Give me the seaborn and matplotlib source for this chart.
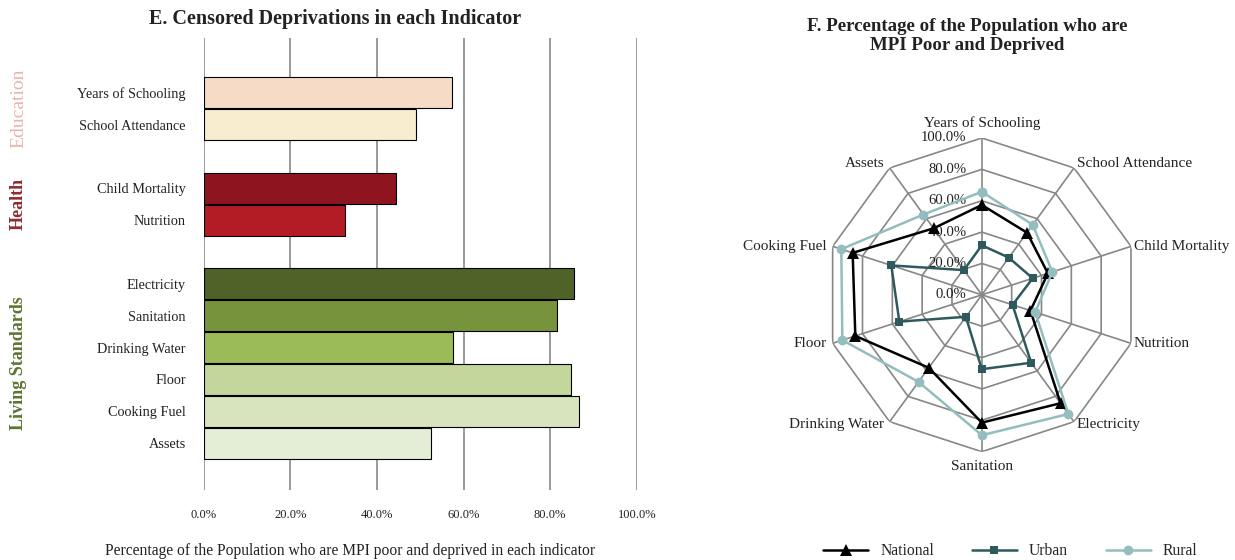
import numpy as np
import pandas as pd
import matplotlib
matplotlib.use('Agg')
import matplotlib.pyplot as plt
import matplotlib.transforms as mtransforms
import seaborn as sns

sns.set_style('white')
plt.rcParams['font.family'] = ['Liberation Serif', 'DejaVu Serif']

# 데이터
indicators = ['Years of Schooling', 'School Attendance', 'Child Mortality', 'Nutrition',
              'Electricity', 'Sanitation', 'Drinking Water', 'Floor', 'Cooking Fuel', 'Assets']
national = [57.3, 49.0, 44.3, 32.6, 85.4, 81.5, 57.5, 84.8, 86.6, 52.4]
urban = [31.6, 29.3, 34.1, 20.6, 53.5, 47.4, 17.3, 55.3, 60.7, 19.5]
rural = [65.7, 55.2, 47.3, 35.8, 93.9, 89.5, 68.6, 93.5, 94.2, 63.3]

bar_colors = ['#F6DCC6', '#F8EDCE', '#8E1520', '#B31C25', '#4F6228',
              '#77933C', '#9BBB59', '#C3D69B', '#D7E4BD', '#E4EDD5']
groups = ['Education', 'Health', 'Living Standards']
group_members = [indicators[0:2], indicators[2:4], indicators[4:10]]
group_colors = ['#E8B4AC', '#8E2A32', '#5E7431']
group_weights = ['normal', 'bold', 'bold']
group_sizes = [14, 13, 13]

series_names = ['National', 'Urban', 'Rural']
series_colors = ['#000000', '#2E5A5E', '#93BDBF']
series_markers = ['^', 's', 'o']
series_sizes = [8, 6, 7]

ticks = [0, 20, 40, 60, 80, 100]
grid_col = '#878787'
text_col = '#222222'

fig = plt.figure(figsize=(12.35, 5.6), dpi=100)

# E. 막대 그래프
ax = fig.add_axes([0.165, 0.125, 0.3506, 0.807])
bdf = pd.DataFrame({'indicator': indicators, 'value': national})
spacers = [' ', '  ', '   ', '    ']
order = [spacers[0]]
for i, members in enumerate(group_members):
    order += members
    order.append(spacers[i + 1])

sns.barplot(data=bdf, x='value', y='indicator', order=order, hue='indicator',
            hue_order=indicators, palette=dict(zip(indicators, bar_colors)),
            legend=False, width=0.97, edgecolor='black', linewidth=0.8,
            saturation=1, ax=ax)
ax.set_xlim(0, 100)
ax.set_ylim(len(order) - 0.53, -0.72)
ax.set_xticks(ticks)
ax.set_xticklabels([f'{t:.1f}%' for t in ticks], fontsize=9, color=text_col)
ax.tick_params(axis='y', labelsize=10.3, labelcolor=text_col, pad=13)
ax.tick_params(axis='x', pad=14)
ax.tick_params(length=0)
ax.xaxis.grid(True, color=grid_col, linewidth=1.2)
ax.set_axisbelow(True)
for s in ax.spines.values():
    s.set_visible(False)
ax.set_ylabel('')
ax.set_xlabel('')

trans = mtransforms.blended_transform_factory(ax.transAxes, ax.transData)
for g, members, col, w, fs in zip(groups, group_members, group_colors, group_weights, group_sizes):
    pos = [order.index(m) for m in members]
    ax.text(-0.428, np.mean(pos), g, rotation=90, ha='center', va='center',
            color=col, fontsize=fs, fontweight=w, transform=trans)

fig.text(0.2834, 0.016, 'Percentage of the Population who are MPI poor and deprived in each indicator',
         ha='center', va='center', fontsize=11.2, color=text_col)
fig.text(0.271, 0.966, 'E. Censored Deprivations in each Indicator',
         ha='center', va='center', fontsize=14.5, fontweight='bold', color=text_col)

# F. 레이더 차트
rax = fig.add_axes([0.668, 0.193, 0.254, 0.561], projection='polar')
n = len(indicators)
theta = np.linspace(0, 2 * np.pi, n, endpoint=False)
theta_c = np.append(theta, 2 * np.pi)
rax.set_theta_zero_location('N')
rax.set_theta_direction(-1)
rax.grid(False)
rax.spines['polar'].set_visible(False)
rax.set_xticks([])
rax.set_yticks([])
rax.set_ylim(0, 1)

for t in ticks[1:]:
    rax.plot(theta_c, [t / 100] * (n + 1), color=grid_col, lw=1.2, zorder=1)
for th in theta:
    rax.plot([th, th], [0, 1], color=grid_col, lw=1.2, zorder=1)

for t in ticks:
    rax.annotate(f'{t:.1f}%', xy=(0, t / 100), xytext=(-11, 0), textcoords='offset points',
                 ha='right', va='center', fontsize=10.6, color=text_col, zorder=2)

aligns = ['center', 'left', 'left', 'left', 'left', 'center', 'right', 'right', 'right', 'right']
for th, lab, ha in zip(theta, indicators, aligns):
    dx = 0 if ha == 'center' else (2 if ha == 'left' else -4)
    dy = 0
    va = 'center'
    if lab == 'Years of Schooling':
        dy, va = 6, 'bottom'
    elif lab == 'Sanitation':
        dy, va = -6, 'top'
    elif lab in ('School Attendance', 'Assets'):
        dy = 3
    elif lab in ('Electricity', 'Drinking Water'):
        dy = -2
    rax.annotate(lab, xy=(th, 1.0), xytext=(dx, dy), textcoords='offset points',
                 ha=ha, va=va, fontsize=11, color=text_col, annotation_clip=False)

for name, vals, col, mk, ms in zip(series_names, [national, urban, rural],
                                   series_colors, series_markers, series_sizes):
    sdf = pd.DataFrame({'theta': theta_c, 'value': np.append(vals, vals[0]) / 100})
    sns.lineplot(data=sdf, x='theta', y='value', sort=False, color=col, marker=mk,
                 markersize=ms, markeredgecolor=col, markeredgewidth=0,
                 linewidth=1.8, label=name, legend=False, ax=rax, zorder=3)
rax.set_xlabel('')
rax.set_ylabel('')
rax.set_ylim(0, 1)

handles, labels = rax.get_legend_handles_labels()
fig.legend(handles, labels, loc='center', bbox_to_anchor=(0.818, 0.016), ncol=3,
           frameon=False, fontsize=11.3, handlelength=2.9, columnspacing=2.4,
           handletextpad=0.75)

fig.text(0.783, 0.935, 'F. Percentage of the Population who are\nMPI Poor and Deprived',
         ha='center', va='center', fontsize=13.6, fontweight='bold', color=text_col,
         linespacing=1.15)

fig.savefig('out.png', dpi=100)
